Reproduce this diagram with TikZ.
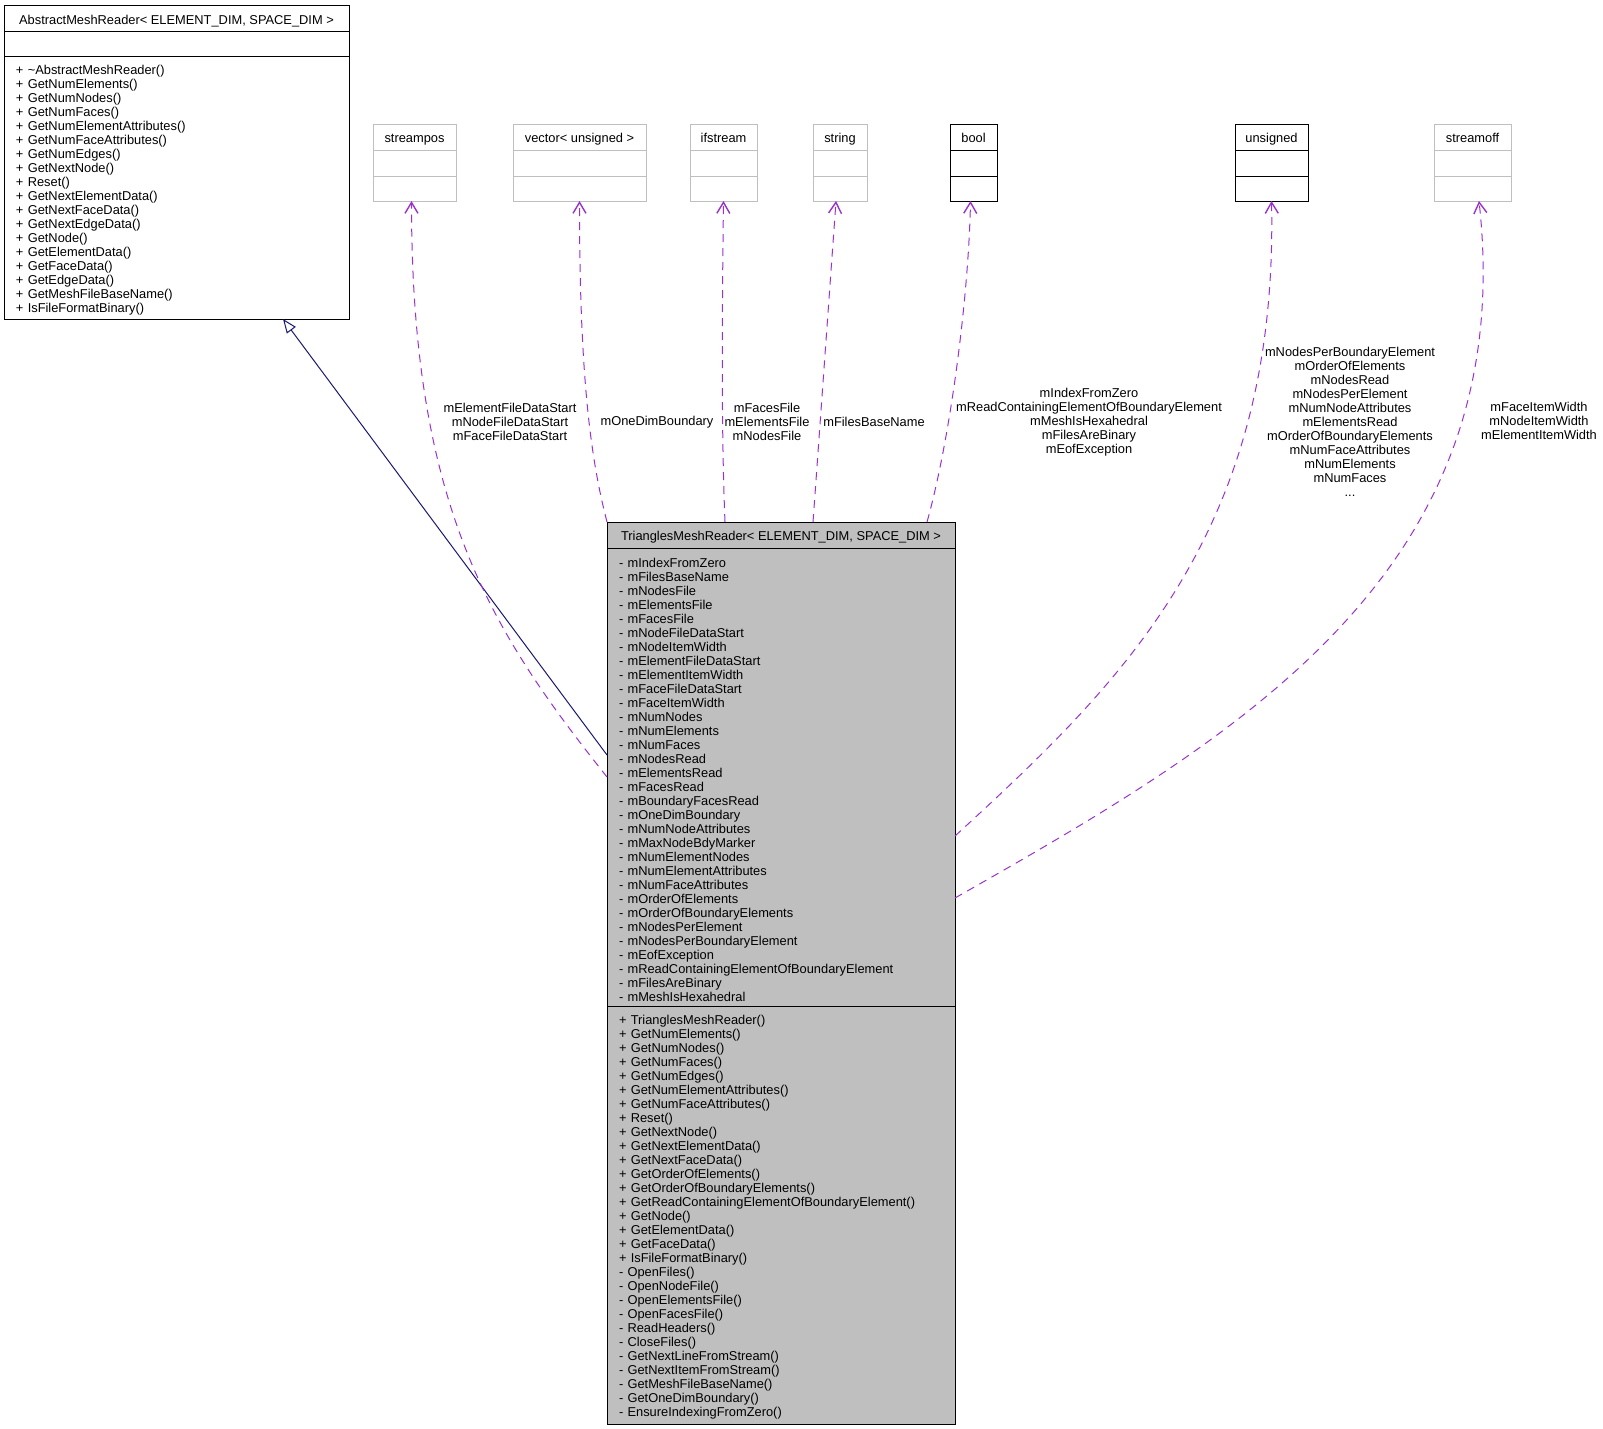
\documentclass[tikz,border=0pt]{standalone}
\usepackage{fontspec}
\setmainfont{Liberation Sans}
\usetikzlibrary{arrows.meta, positioning}
\definecolor{umlgrey}{RGB}{191,191,191}
\definecolor{usepurple}{RGB}{154,50,205}
\definecolor{inhnavy}{RGB}{25,25,112}

\begin{document}
\begin{tikzpicture}[x=1pt, y=-1pt, line width=1pt,
  every node/.style={font=\fontsize{12.85}{14}\selectfont, inner sep=0pt, outer sep=0pt},
  clshead/.style={draw, minimum height=26pt, align=center, text height=11.5pt, text depth=0pt},
  clsbody/.style={draw, align=left, inner xsep=12pt, execute at begin node={\rule{0pt}{14.5pt}}},
  extcls/.style={draw=umlgrey},
  memb/.style={align=center},
  usage/.style={draw=usepurple, dash pattern=on 8pt off 6pt, -{Straight Barb[length=11pt, width=13pt, line width=1.4pt]}},
  inherit/.style={draw=inhnavy, -{Triangle[open, length=14pt, width=11pt]}}]
  \useasboundingbox (0,0) rectangle (1603,1429);

  % base class
  \node[clshead, minimum width=345pt] (amr) at (176.5,19) {AbstractMeshReader< ELEMENT\_DIM, SPACE\_DIM >};
  \node[clsbody, minimum width=345pt, minimum height=25pt, below=0pt of amr] (amrattr) {};
  \node[clsbody, text width=321pt, minimum height=262pt, below=0pt of amrattr] (amrops) {+ \textasciitilde AbstractMeshReader()\\+ GetNumElements()\\+ GetNumNodes()\\+ GetNumFaces()\\+ GetNumElementAttributes()\\+ GetNumFaceAttributes()\\+ GetNumEdges()\\+ GetNextNode()\\+ Reset()\\+ GetNextElementData()\\+ GetNextFaceData()\\+ GetNextEdgeData()\\+ GetNode()\\+ GetElementData()\\+ GetFaceData()\\+ GetEdgeData()\\+ GetMeshFileBaseName()\\+ IsFileFormatBinary()};

  % member types
  \node[clshead, extcls, minimum width=83pt] (spos) at (414.5,137) {streampos};
  \node[clshead, extcls, minimum width=83pt, below=0pt of spos] (sposattr) {};
  \node[clshead, extcls, minimum width=83pt, minimum height=25pt, below=0pt of sposattr] (sposops) {};
  \node[clshead, extcls, minimum width=133pt] (vecu) at (579.5,137) {vector< unsigned >};
  \node[clshead, extcls, minimum width=133pt, below=0pt of vecu] (vecuattr) {};
  \node[clshead, extcls, minimum width=133pt, minimum height=25pt, below=0pt of vecuattr] (vecuops) {};
  \node[clshead, extcls, minimum width=67pt] (ifs) at (723.5,137) {ifstream};
  \node[clshead, extcls, minimum width=67pt, below=0pt of ifs] (ifsattr) {};
  \node[clshead, extcls, minimum width=67pt, minimum height=25pt, below=0pt of ifsattr] (ifsops) {};
  \node[clshead, extcls, minimum width=54pt] (str) at (840,137) {string};
  \node[clshead, extcls, minimum width=54pt, below=0pt of str] (strattr) {};
  \node[clshead, extcls, minimum width=54pt, minimum height=25pt, below=0pt of strattr] (strops) {};
  \node[clshead, minimum width=47pt] (boolt) at (973.5,137) {bool};
  \node[clshead, minimum width=47pt, below=0pt of boolt] (booltattr) {};
  \node[clshead, minimum width=47pt, minimum height=25pt, below=0pt of booltattr] (booltops) {};
  \node[clshead, minimum width=73pt] (uns) at (1271.5,137) {unsigned};
  \node[clshead, minimum width=73pt, below=0pt of uns] (unsattr) {};
  \node[clshead, minimum width=73pt, minimum height=25pt, below=0pt of unsattr] (unsops) {};
  \node[clshead, extcls, minimum width=77pt] (soff) at (1472.5,137) {streamoff};
  \node[clshead, extcls, minimum width=77pt, below=0pt of soff] (soffattr) {};
  \node[clshead, extcls, minimum width=77pt, minimum height=25pt, below=0pt of soffattr] (soffops) {};

  % derived class
  \node[clshead, fill=umlgrey, minimum width=348pt] (tmr) at (781,535) {TrianglesMeshReader< ELEMENT\_DIM, SPACE\_DIM >};
  \node[clsbody, fill=umlgrey, text width=324pt, minimum height=458pt, below=0pt of tmr] (tmrattr) {- mIndexFromZero\\- mFilesBaseName\\- mNodesFile\\- mElementsFile\\- mFacesFile\\- mNodeFileDataStart\\- mNodeItemWidth\\- mElementFileDataStart\\- mElementItemWidth\\- mFaceFileDataStart\\- mFaceItemWidth\\- mNumNodes\\- mNumElements\\- mNumFaces\\- mNodesRead\\- mElementsRead\\- mFacesRead\\- mBoundaryFacesRead\\- mOneDimBoundary\\- mNumNodeAttributes\\- mMaxNodeBdyMarker\\- mNumElementNodes\\- mNumElementAttributes\\- mNumFaceAttributes\\- mOrderOfElements\\- mOrderOfBoundaryElements\\- mNodesPerElement\\- mNodesPerBoundaryElement\\- mEofException\\- mReadContainingElementOfBoundaryElement\\- mFilesAreBinary\\- mMeshIsHexahedral};
  \node[clsbody, fill=umlgrey, text width=324pt, minimum height=418pt, below=0pt of tmrattr] (tmrops) {+ TrianglesMeshReader()\\+ GetNumElements()\\+ GetNumNodes()\\+ GetNumFaces()\\+ GetNumEdges()\\+ GetNumElementAttributes()\\+ GetNumFaceAttributes()\\+ Reset()\\+ GetNextNode()\\+ GetNextElementData()\\+ GetNextFaceData()\\+ GetOrderOfElements()\\+ GetOrderOfBoundaryElements()\\+ GetReadContainingElementOfBoundaryElement()\\+ GetNode()\\+ GetElementData()\\+ GetFaceData()\\+ IsFileFormatBinary()\\- OpenFiles()\\- OpenNodeFile()\\- OpenElementsFile()\\- OpenFacesFile()\\- ReadHeaders()\\- CloseFiles()\\- GetNextLineFromStream()\\- GetNextItemFromStream()\\- GetMeshFileBaseName()\\- GetOneDimBoundary()\\- EnsureIndexingFromZero()};

  % member labels
  \node[memb] (lblspos) at (510,422) {mElementFileDataStart\\mNodeFileDataStart\\mFaceFileDataStart};
  \node[memb] (lblvecu) at (657,422) {mOneDimBoundary};
  \node[memb] (lblifs) at (767,422) {mFacesFile\\mElementsFile\\mNodesFile};
  \node[memb] (lblstr) at (874,422) {mFilesBaseName};
  \node[memb] (lblbool) at (1089,422) {mIndexFromZero\\mReadContainingElementOfBoundaryElement\\mMeshIsHexahedral\\mFilesAreBinary\\mEofException};
  \node[memb] (lbluns) at (1350,422) {mNodesPerBoundaryElement\\mOrderOfElements\\mNodesRead\\mNodesPerElement\\mNumNodeAttributes\\mElementsRead\\mOrderOfBoundaryElements\\mNumFaceAttributes\\mNumElements\\mNumFaces\\...};
  \node[memb] (lblsoff) at (1539,421) {mFaceItemWidth\\mNodeItemWidth\\mElementItemWidth};

  % connectors
  \draw[inherit] ([yshift=22pt]tmrattr.west) -- ([xshift=106.5pt]amrops.south);
  \draw[usage] (tmrattr.west) .. controls +(-116,-146) and +(0,306) .. ([xshift=-3pt]sposops.south);
  \draw[usage] (tmr.north west) .. controls +(-16,-62) and +(0,178) .. (vecuops.south);
  \draw[usage] ([xshift=-56pt]tmr.north) .. controls +(-3,-72) and +(-2,150) .. (ifsops.south);
  \draw[usage] ([xshift=32pt]tmr.north) -- ([xshift=-4pt]strops.south);
  \draw[usage] ([xshift=146pt]tmr.north) .. controls +(23,-82) and +(-2,98) .. ([xshift=-3pt]booltops.south);
  \draw[usage] ([yshift=-59pt]tmrattr.east) .. controls +(169,-155) and +(7,330) .. (unsops.south);
  \draw[usage] ([yshift=-121pt]tmrattr.east) .. controls +(281,-160) and +(41,373) .. ([xshift=6.5pt]soffops.south);
\end{tikzpicture}
\end{document}
